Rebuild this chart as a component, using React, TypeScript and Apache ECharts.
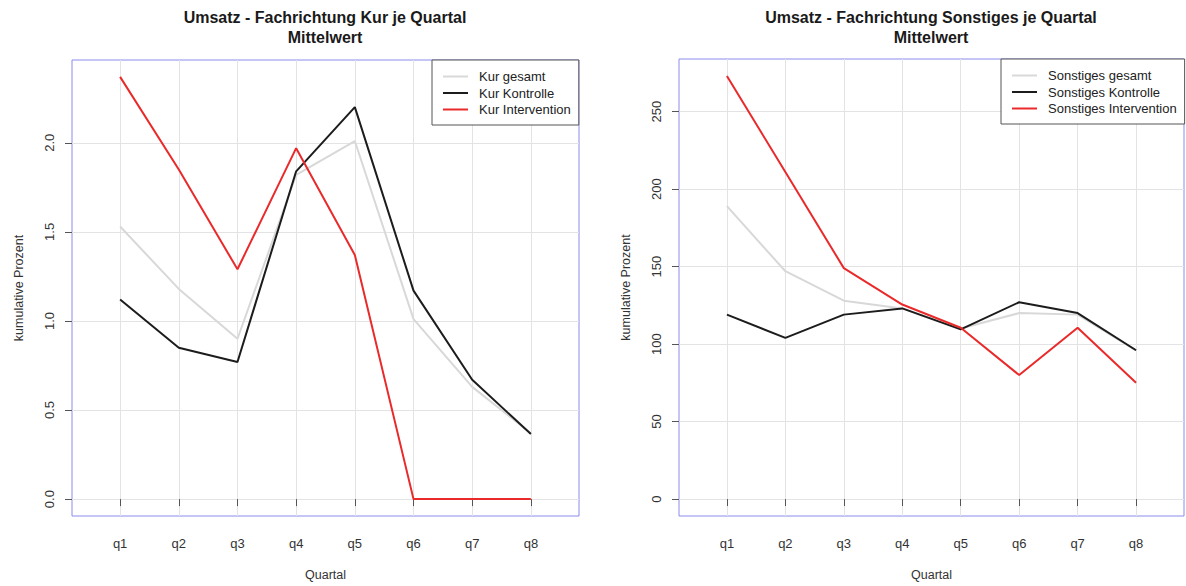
import React, { useEffect, useRef } from "react";
import * as echarts from "echarts";

// Quarter labels and their positions on the x scale
const quarters = ["q1", "q2", "q3", "q4", "q5", "q6", "q7", "q8"];
const quarterPos = [1, 2, 3, 4, 5, 6, 7, 8];

// Kur (mean cumulative percent per quarter)
const kurGesamt = [1.53, 1.18, 0.9, 1.82, 2.01, 1.01, 0.63, 0.37];
const kurKontrolle = [1.12, 0.85, 0.77, 1.84, 2.2, 1.17, 0.67, 0.365];
const kurIntervention = [2.37, 1.85, 1.29, 1.97, 1.37, 0, 0, 0];

// Sonstiges (mean cumulative percent per quarter)
const sonstigesGesamt = [189, 147, 128, 123, 110, 120, 119, 96];
const sonstigesKontrolle = [119, 104, 119, 123, 109.5, 127, 120, 96];
const sonstigesIntervention = [273, 211, 149, 125.5, 110.5, 80, 110.5, 75];

// Tick labels
const kurTicks = [0, 0.5, 1, 1.5, 2];
const sonstigesTicks = [0, 50, 100, 150, 200, 250];

const FONT = "'Liberation Sans', Arial, sans-serif";
const COL_GESAMT = "#d8d8d8";
const COL_KONTROLLE = "#1c1c1c";
const COL_INTERVENTION = "#ea2a2a";
const BOX = "#8c8cec";
const GRID_LINE = "#e3e3e6";

// R-style axis range: data range extended by 4% on each side
const extend = (lo: number, hi: number) => {
  const d = (hi - lo) * 0.04;
  return [lo - d, hi + d];
};

const pairs = (vals: number[]) => vals.map((v, i) => [quarterPos[i], v]);

export default function App() {
  const ref = useRef<HTMLDivElement>(null);

  useEffect(() => {
    if (!ref.current) return;
    const chart = echarts.init(ref.current, undefined, { renderer: "svg" });

    const xRange = extend(0.5, 8.5);
    const kurRange = extend(0, Math.max(...kurGesamt, ...kurKontrolle, ...kurIntervention));
    const sonRange = extend(
      0,
      Math.max(...sonstigesGesamt, ...sonstigesKontrolle, ...sonstigesIntervention)
    );

    const xAxisFor = (gridIndex: number) => ({
      type: "value" as const,
      gridIndex,
      min: xRange[0],
      max: xRange[1],
      name: "Quartal",
      nameLocation: "middle" as const,
      nameGap: 52,
      nameTextStyle: { fontFamily: FONT, fontSize: 12.5, color: "#333" },
      axisLine: { show: false },
      axisTick: {
        show: true,
        length: 7,
        customValues: quarterPos,
        lineStyle: { color: "#555" },
      },
      axisLabel: {
        customValues: quarterPos,
        formatter: (v: number) => quarters[Math.round(v) - 1] ?? "",
        margin: 21,
        fontFamily: FONT,
        fontSize: 13,
        color: "#333",
      },
      splitLine: { show: true, lineStyle: { color: GRID_LINE, width: 1 } },
    });

    const yAxisFor = (
      gridIndex: number,
      range: number[],
      ticks: number[],
      fmt: (v: number) => string
    ) => ({
      type: "value" as const,
      gridIndex,
      min: range[0],
      max: range[1],
      name: "kumulative Prozent",
      nameLocation: "middle" as const,
      nameRotate: 90,
      nameGap: 47,
      nameTextStyle: { fontFamily: FONT, fontSize: 12.5, color: "#333" },
      axisLine: { show: false },
      axisTick: {
        show: true,
        length: 7,
        customValues: ticks,
        lineStyle: { color: "#555" },
      },
      axisLabel: {
        customValues: ticks,
        formatter: fmt,
        rotate: 90,
        margin: 16,
        fontFamily: FONT,
        fontSize: 13,
        color: "#333",
      },
      splitLine: { show: true, lineStyle: { color: GRID_LINE, width: 1 } },
    });

    const line = (
      name: string,
      vals: number[],
      color: string,
      idx: number
    ) => ({
      type: "line" as const,
      name,
      xAxisIndex: idx,
      yAxisIndex: idx,
      data: pairs(vals),
      showSymbol: false,
      symbol: "none",
      itemStyle: { color },
      lineStyle: { color, width: 2 },
    });

    const legendFor = (names: string[], left: number, top: number) => ({
      orient: "vertical" as const,
      left,
      top,
      data: names,
      icon: "rect",
      itemWidth: 25,
      itemHeight: 2,
      itemGap: 3.5,
      padding: [10, 8, 9, 11],
      borderColor: "#555",
      borderWidth: 1,
      borderRadius: 0,
      backgroundColor: "#fff",
      selectedMode: false,
      textStyle: {
        fontFamily: FONT,
        fontSize: 13,
        color: "#222",
        padding: [0, 0, 0, 6],
      },
    });

    const titleStyle = {
      fontFamily: FONT,
      fontSize: 16,
      fontWeight: "bold" as const,
      color: "#1a1a1a",
      lineHeight: 20,
    };

    chart.setOption({
      animation: false,
      backgroundColor: "#fff",
      title: [
        {
          text: "Umsatz - Fachrichtung Kur je Quartal\nMittelwert",
          left: 325,
          top: 7,
          padding: 0,
          textAlign: "center",
          textStyle: titleStyle,
        },
        {
          text: "Umsatz - Fachrichtung Sonstiges je Quartal\nMittelwert",
          left: 931,
          top: 7,
          padding: 0,
          textAlign: "center",
          textStyle: titleStyle,
        },
      ],
      grid: [
        {
          left: 72,
          top: 60,
          width: 507,
          height: 456,
          show: true,
          borderColor: BOX,
          borderWidth: 1,
          backgroundColor: "transparent",
        },
        {
          left: 679,
          top: 59,
          width: 505,
          height: 457,
          show: true,
          borderColor: BOX,
          borderWidth: 1,
          backgroundColor: "transparent",
        },
      ],
      legend: [
        legendFor(["Kur gesamt", "Kur Kontrolle", "Kur Intervention"], 432, 60),
        legendFor(
          ["Sonstiges gesamt", "Sonstiges Kontrolle", "Sonstiges Intervention"],
          1001,
          59
        ),
      ],
      xAxis: [xAxisFor(0), xAxisFor(1)],
      yAxis: [
        yAxisFor(0, kurRange, kurTicks, (v) => v.toFixed(1)),
        yAxisFor(1, sonRange, sonstigesTicks, (v) => String(Math.round(v))),
      ],
      series: [
        line("Kur gesamt", kurGesamt, COL_GESAMT, 0),
        line("Kur Kontrolle", kurKontrolle, COL_KONTROLLE, 0),
        line("Kur Intervention", kurIntervention, COL_INTERVENTION, 0),
        line("Sonstiges gesamt", sonstigesGesamt, COL_GESAMT, 1),
        line("Sonstiges Kontrolle", sonstigesKontrolle, COL_KONTROLLE, 1),
        line("Sonstiges Intervention", sonstigesIntervention, COL_INTERVENTION, 1),
      ],
    });

    return () => chart.dispose();
  }, []);

  return (
    <div
      ref={ref}
      style={{ position: "absolute", left: 0, top: 0, width: 1186, height: 586 }}
    />
  );
}
